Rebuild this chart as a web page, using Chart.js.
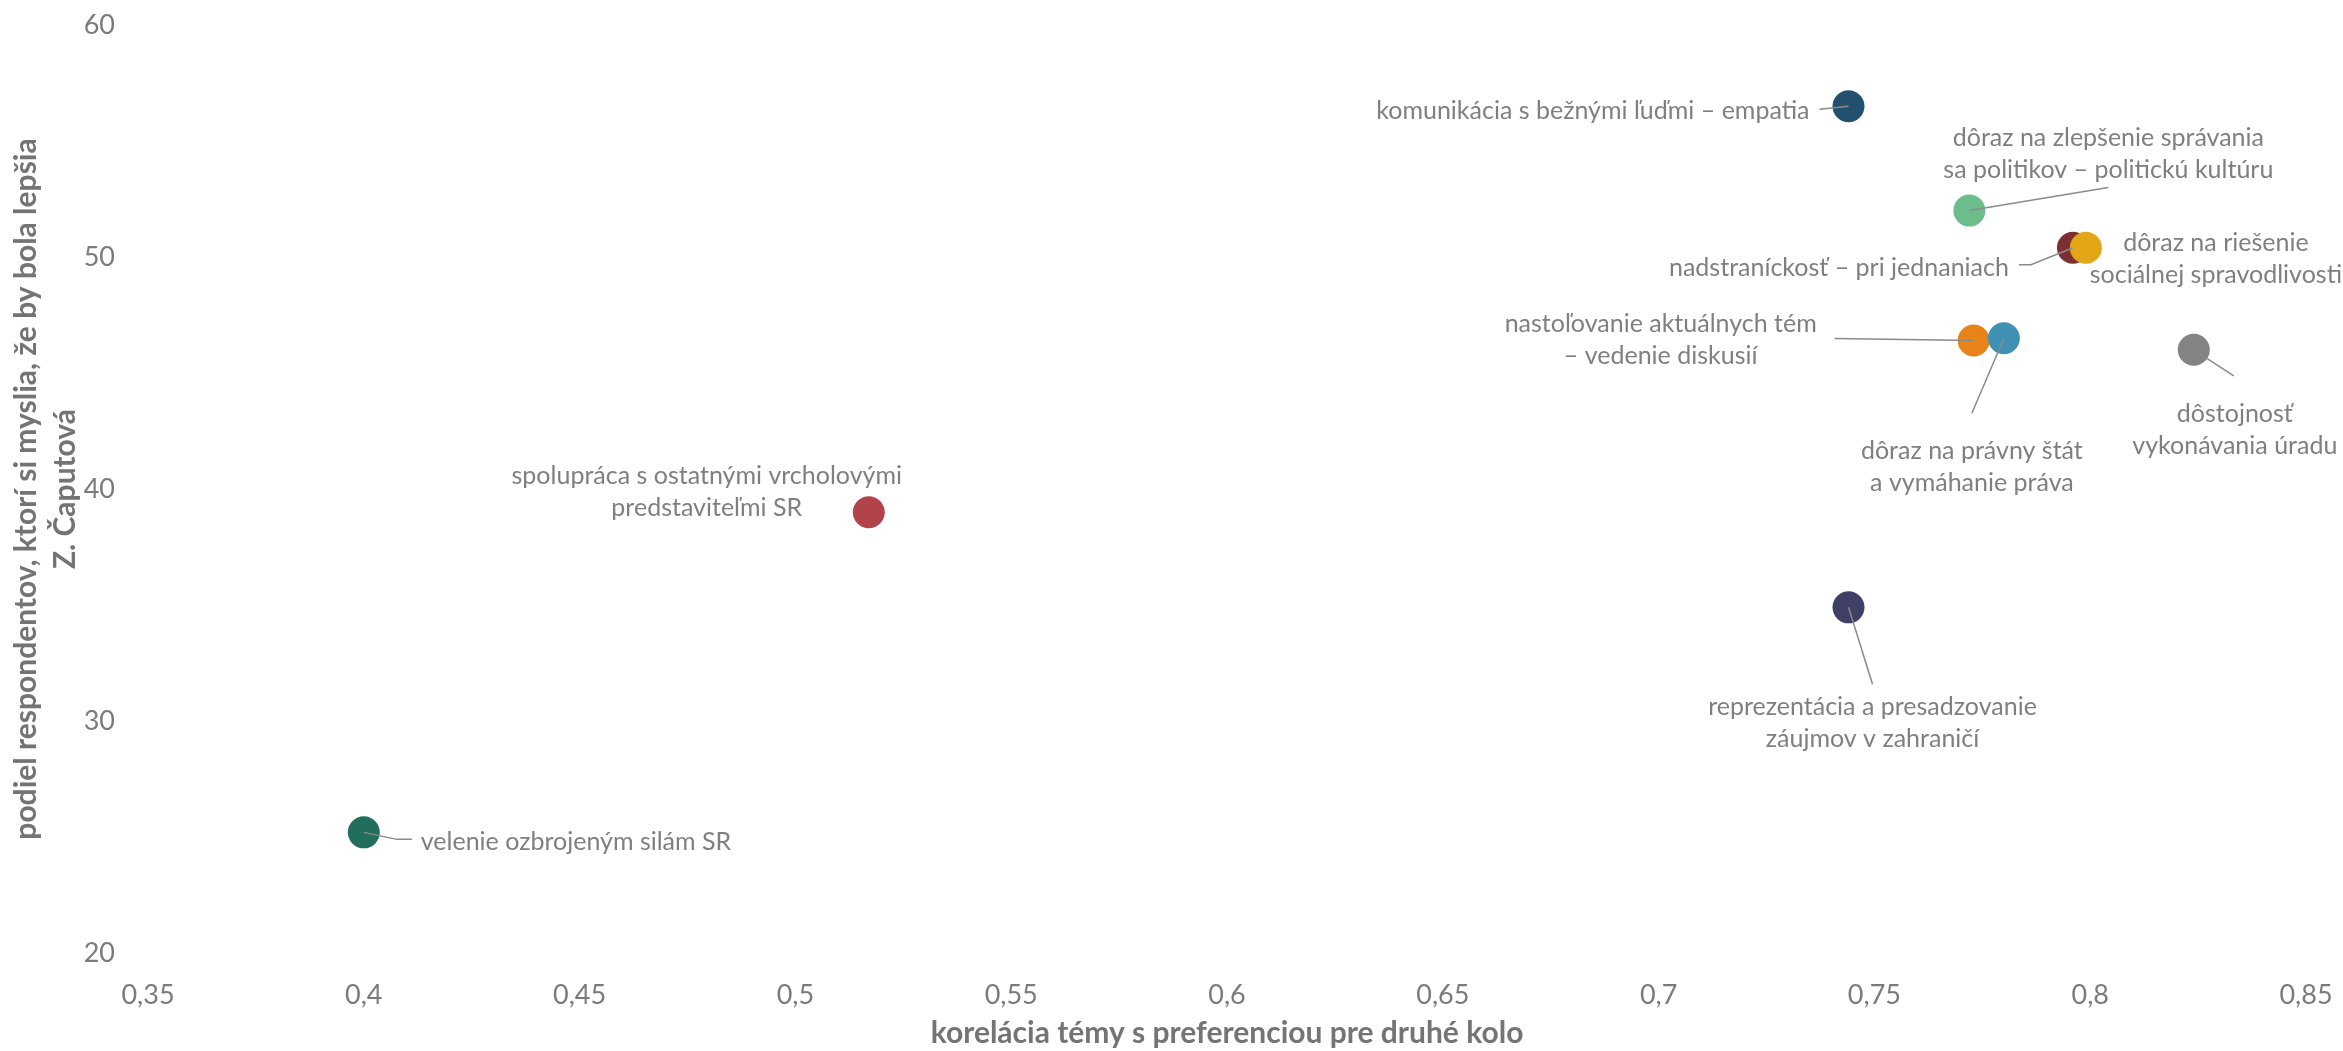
<!DOCTYPE html>
<html>
<head>
<meta charset="utf-8">
<script src="https://cdn.jsdelivr.net/npm/chart.js@4/dist/chart.umd.min.js"></script>
<style>
  html, body { margin: 0; padding: 0; background: #ffffff; }
  #wrap { width: 2343px; height: 1051px; }
</style>
</head>
<body>
<div id="wrap"><canvas id="chart"></canvas></div>
<script>
// topics (point labels), one entry per point
var topics = [
    ["velenie ozbrojeným silám SR"],
    ["spolupráca s ostatnými vrcholovými", "predstaviteľmi SR"],
    ["komunikácia s bežnými ľuďmi – empatia"],
    ["dôraz na zlepšenie správania", "sa politikov – politickú kultúru"],
    ["nadstraníckosť – pri jednaniach"],
    ["dôraz na riešenie", "sociálnej spravodlivosti"],
    ["nastoľovanie aktuálnych tém", "– vedenie diskusií"],
    ["dôraz na právny štát", "a vymáhanie práva"],
    ["dôstojnosť", "vykonávania úradu"],
    ["reprezentácia a presadzovanie", "záujmov v zahraničí"]
];
// correlation of topic with second round preference
var correlation = [0.400, 0.517, 0.744, 0.772, 0.796, 0.799, 0.773, 0.780, 0.824, 0.744];
// share of respondents who think Z. Čaputová would be better
var share = [25.2, 39.0, 56.5, 52.0, 50.4, 50.4, 46.4, 46.5, 46.0, 34.9];

var pointColors = ["#216e5c", "#b3434b", "#24506f", "#6bbd8c", "#7d3034",
                   "#e2a617", "#e8831a", "#3f92b6", "#838383", "#403f66"];

// label placement relative to the point (pixels): text anchor, alignment, leader path
var labelLayout = [
    { dx: 57,   dy: 10,  align: "left",   leader: [[33, 7], [48, 7]] },
    { dx: -162, dy: -36, align: "center", leader: null },
    { dx: -39,  dy: 5,   align: "right",  leader: [[-29, 3]] },
    { dx: 139,  dy: -73, align: "center", leader: [[139, -23]] },
    { dx: -64,  dy: 20,  align: "right",  leader: [[-42, 17], [-54, 17]] },
    { dx: 130,  dy: -5,  align: "center", leader: null },
    { dx: -313, dy: -17, align: "center", leader: [[-139, -2]] },
    { dx: -32,  dy: 113, align: "center", leader: [[-32, 75]] },
    { dx: 41,   dy: 64,  align: "center", leader: [[40, 26]] },
    { dx: 24,   dy: 100, align: "center", leader: [[24, 77]] }
];

var xTitle = "korelácia témy s preferenciou pre druhé kolo";
var yTitle = ["podiel respondentov, ktorí si myslia, že by bola lepšia", "Z. Čaputová"];

var points = correlation.map(function (v, i) {
    return { x: v, y: share[i] };
});

var textGray = "#7b7b7b";

var pointLabels = {
    id: "pointLabels",
    afterDatasetsDraw: function (chart) {
        var ctx = chart.ctx;
        var meta = chart.getDatasetMeta(0);
        ctx.save();
        ctx.font = "25px Lato";
        ctx.textBaseline = "middle";
        meta.data.forEach(function (el, i) {
            var lay = labelLayout[i];
            if (lay.leader) {
                ctx.beginPath();
                ctx.strokeStyle = "#8a8a8a";
                ctx.lineWidth = 1.5;
                ctx.moveTo(el.x, el.y);
                lay.leader.forEach(function (p) {
                    ctx.lineTo(el.x + p[0], el.y + p[1]);
                });
                ctx.stroke();
            }
            ctx.fillStyle = "#7f7f7f";
            ctx.textAlign = lay.align;
            topics[i].forEach(function (line, k) {
                ctx.fillText(line, el.x + lay.dx, el.y + lay.dy + k * 32);
            });
        });
        ctx.restore();
    }
};

new Chart(document.getElementById("chart"), {
    type: "scatter",
    data: {
        datasets: [{
            label: "témy",
            data: points,
            pointBackgroundColor: pointColors,
            pointBorderWidth: 0,
            pointRadius: 16,
            pointHoverRadius: 16
        }]
    },
    options: {
        responsive: true,
        maintainAspectRatio: false,
        animation: false,
        events: [],
        layout: {
            padding: { top: 25, right: 37, left: 0, bottom: 0 }
        },
        plugins: {
            legend: { display: false },
            tooltip: { enabled: false }
        },
        scales: {
            x: {
                type: "linear",
                min: 0.35,
                max: 0.85,
                // tick marks are hidden; their length only spaces the labels
                grid: { display: false, drawTicks: true, tickLength: 26 },
                border: { display: false },
                ticks: {
                    stepSize: 0.05,
                    padding: 0,
                    color: textGray,
                    font: { family: "Lato", size: 27 },
                    callback: function (v) {
                        return String(Math.round(v * 100) / 100).replace(".", ",");
                    }
                },
                title: {
                    display: true,
                    text: xTitle,
                    color: "#747474",
                    font: { family: "Lato", size: 30, weight: "bold" },
                    padding: 0
                },
                afterFit: function (scale) { scale.height = 98; }
            },
            y: {
                min: 20,
                max: 60,
                grid: { display: false, drawTicks: true, tickLength: 33 },
                border: { display: false },
                ticks: {
                    stepSize: 10,
                    padding: 0,
                    color: textGray,
                    font: { family: "Lato", size: 27 }
                },
                title: {
                    display: true,
                    text: yTitle,
                    color: "#747474",
                    font: { family: "Lato", size: 30, weight: "bold", lineHeight: 1.3 },
                    padding: { top: 7, bottom: 0 }
                },
                afterFit: function (scale) { scale.width = 148; }
            }
        }
    },
    plugins: [pointLabels]
});
</script>
</body>
</html>
